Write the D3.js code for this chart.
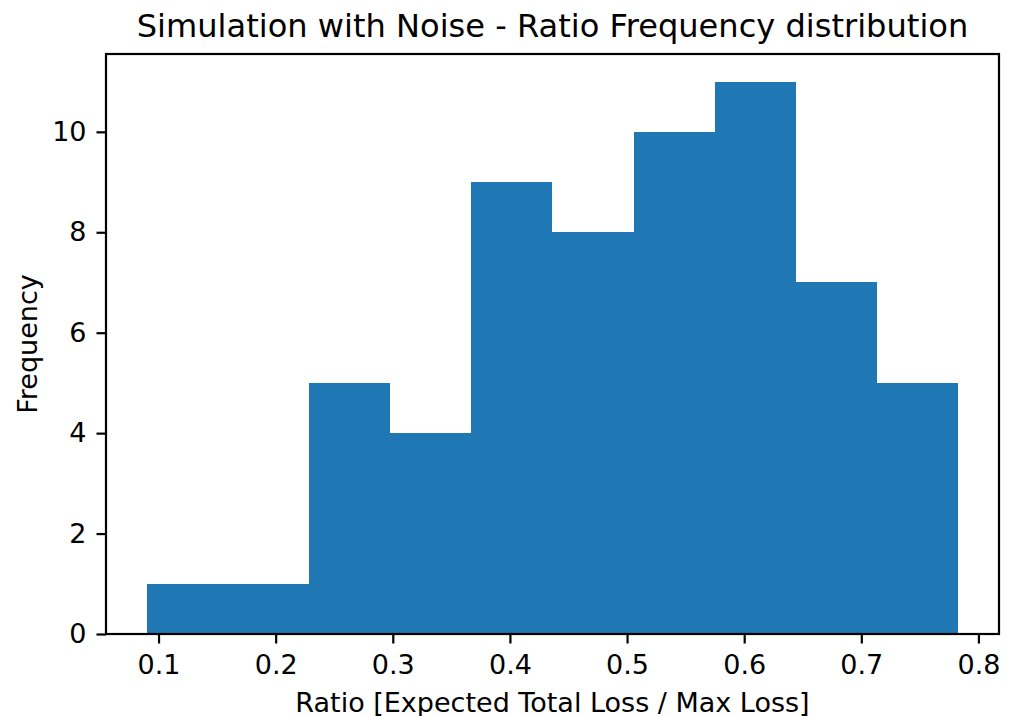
<!DOCTYPE html>
<html>
<head>
<meta charset="utf-8">
<script src="https://cdn.jsdelivr.net/npm/d3@7/dist/d3.min.js"></script>
<style>
  html, body { margin: 0; padding: 0; background: #fff; }
  svg { display: block; }
  text { font-family: "DejaVu Sans", sans-serif; fill: #000; }
</style>
</head>
<body>
<svg id="chart" width="1009" height="716"></svg>
<script>
// Data
const binEdges = [0.0898, 0.1591, 0.2284, 0.2977, 0.3670, 0.4363, 0.5056, 0.5749, 0.6442, 0.7136, 0.7829];
const counts = [1, 1, 5, 4, 9, 8, 10, 11, 7, 5];
const xTicks = [0.1, 0.2, 0.3, 0.4, 0.5, 0.6, 0.7, 0.8];
const yTicks = [0, 2, 4, 6, 8, 10];
const titleText = "Simulation with Noise - Ratio Frequency distribution";
const xLabelText = "Ratio [Expected Total Loss / Max Loss]";
const yLabelText = "Frequency";

const svg = d3.select("#chart");
const L = 106, T = 54, R = 999, B = 634;
const tickFont = 27, titleFont = 32.1;

const lo = binEdges[0], hi = binEdges[binEdges.length - 1];
const pad = (hi - lo) * 0.05;
const x = d3.scaleLinear().domain([lo - pad, hi + pad]).range([L, R]);
const yMax = d3.max(counts) * 1.05;
const y = d3.scaleLinear().domain([0, yMax]).range([B, T]);

const bins = counts.map((c, i) => ({ x0: binEdges[i], x1: binEdges[i + 1], c }));

svg.append("g").selectAll("rect").data(bins).join("rect")
  .attr("x", d => x(d.x0))
  .attr("width", d => x(d.x1) - x(d.x0))
  .attr("y", d => y(d.c))
  .attr("height", d => y(0) - y(d.c))
  .attr("fill", "#1f77b4")
  .attr("shape-rendering", "crispEdges");

// Axes
const xAxis = d3.axisBottom(x).tickValues(xTicks).tickFormat(d3.format(".1f")).tickSizeOuter(0).tickSize(9.5).tickPadding(11);
const gx = svg.append("g").attr("transform", `translate(0,${B})`).call(xAxis);
gx.select(".domain").remove();
gx.selectAll("line").attr("stroke", "#000").attr("stroke-width", 2.2);
gx.selectAll("text").attr("font-size", tickFont).attr("font-family", "DejaVu Sans");

const yAxis = d3.axisLeft(y).tickValues(yTicks).tickFormat(d3.format("d")).tickSizeOuter(0).tickSize(9.5).tickPadding(10);
const gy = svg.append("g").attr("transform", `translate(${L},0)`).call(yAxis);
gy.select(".domain").remove();
gy.selectAll("line").attr("stroke", "#000").attr("stroke-width", 2.2);
gy.selectAll("text").attr("font-size", tickFont).attr("font-family", "DejaVu Sans");

// Frame
svg.append("rect")
  .attr("x", L).attr("y", T).attr("width", R - L).attr("height", B - T)
  .attr("fill", "none").attr("stroke", "#000").attr("stroke-width", 2.2);

// Title and labels
svg.append("text")
  .attr("x", (L + R) / 2).attr("y", 37)
  .attr("text-anchor", "middle").attr("font-size", titleFont)
  .text(titleText);

svg.append("text")
  .attr("x", (L + R) / 2).attr("y", 711.5)
  .attr("text-anchor", "middle").attr("font-size", tickFont)
  .text(xLabelText);

svg.append("text")
  .attr("transform", `translate(37,${(T + B) / 2}) rotate(-90)`)
  .attr("text-anchor", "middle").attr("font-size", tickFont)
  .text(yLabelText);
</script>
</body>
</html>
